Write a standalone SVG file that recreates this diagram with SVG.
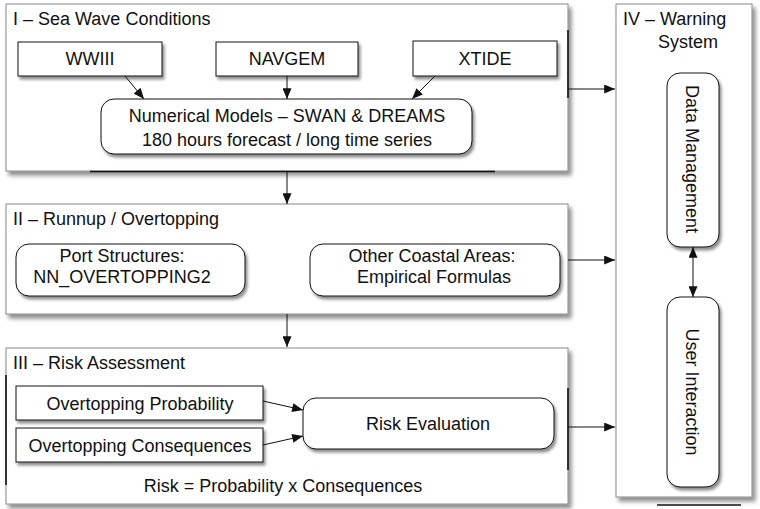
<svg xmlns="http://www.w3.org/2000/svg" width="760" height="509" viewBox="0 0 760 509">
<defs>
<style>
text{font-family:"Liberation Sans",Arial,sans-serif;font-size:18px;fill:#111}
.c{text-anchor:middle}
.panel{fill:#fff;stroke:#8a8a8a;stroke-width:1}
.box{fill:#fff;stroke:#111;stroke-width:1}
.ln{stroke:#111;stroke-width:1;fill:none}
.art{stroke:#111;stroke-width:1.6}
</style>
<filter id="sh" x="-10%" y="-10%" width="130%" height="130%">
<feDropShadow dx="3" dy="4" stdDeviation="2" flood-color="#000" flood-opacity="0.45"/>
</filter>
<filter id="shs" x="-10%" y="-20%" width="130%" height="150%">
<feDropShadow dx="2" dy="3" stdDeviation="1.5" flood-color="#000" flood-opacity="0.45"/>
</filter>
<marker id="ah" viewBox="0 0 12 10" refX="12" refY="5" markerWidth="12" markerHeight="9" markerUnits="userSpaceOnUse" orient="auto-start-reverse">
<path d="M0,0 L12,5 L0,10 z" fill="#111"/>
</marker>
</defs>

<g id="panel1">
<rect class="panel" x="6" y="4" width="562" height="167" filter="url(#sh)"/>
<text x="13" y="25">I – Sea Wave Conditions</text>
<line class="art" x1="568" y1="30" x2="568" y2="98"/>
<line class="art" x1="90" y1="171.5" x2="495" y2="171.5"/>
</g>
<g id="wwiii">
<rect class="box" x="18" y="42" width="144" height="34" filter="url(#shs)"/>
<text class="c" x="90" y="65">WWIII</text>
</g>
<g id="navgem">
<rect class="box" x="216" y="42" width="142" height="34" filter="url(#shs)"/>
<text class="c" x="287" y="65">NAVGEM</text>
</g>
<g id="xtide">
<rect class="box" x="413" y="41" width="144" height="35" filter="url(#shs)"/>
<text class="c" x="485" y="65">XTIDE</text>
</g>
<g id="numerical">
<rect class="box" x="101" y="99" width="371" height="55" rx="13" filter="url(#shs)"/>
<text class="c" x="287" y="122">Numerical Models – SWAN &amp; DREAMS</text>
<text class="c" x="287" y="146">180 hours forecast / long time series</text>
</g>

<g id="panel2">
<rect class="panel" x="6" y="204" width="562" height="110" filter="url(#sh)"/>
<text x="13" y="225">II – Runnup / Overtopping</text>
</g>
<g id="port">
<rect class="box" x="16" y="244" width="229" height="52" rx="13" filter="url(#shs)"/>
<text class="c" x="122" y="262">Port Structures:</text>
<text class="c" x="122" y="283">NN_OVERTOPPING2</text>
</g>
<g id="other">
<rect class="box" x="310" y="244" width="250" height="52" rx="13" filter="url(#shs)"/>
<text class="c" x="432" y="262">Other Coastal Areas:</text>
<text class="c" x="434" y="283">Empirical Formulas</text>
</g>

<g id="panel3">
<rect class="panel" x="6" y="348" width="562" height="156" filter="url(#sh)"/>
<text x="13" y="369">III – Risk Assessment</text>
<line class="art" x1="6" y1="375" x2="6" y2="485"/>
<line class="art" x1="568" y1="388" x2="568" y2="470"/>
<text class="c" x="283" y="492">Risk = Probability x Consequences</text>
</g>
<g id="prob">
<rect class="box" x="16" y="386" width="247" height="34" filter="url(#shs)"/>
<text class="c" x="140" y="410">Overtopping Probability</text>
</g>
<g id="cons">
<rect class="box" x="16" y="428" width="247" height="34" filter="url(#shs)"/>
<text class="c" x="140" y="452">Overtopping Consequences</text>
</g>
<g id="riskeval">
<rect class="box" x="303" y="398" width="251" height="51" rx="13" filter="url(#shs)"/>
<text class="c" x="428" y="430">Risk Evaluation</text>
</g>

<g id="panel4">
<rect class="panel" x="616" y="4" width="136" height="493" filter="url(#sh)"/>
<text x="623" y="25">IV – Warning</text>
<text class="c" x="688" y="48">System</text>
<line class="art" x1="657" y1="505" x2="741" y2="505"/>
</g>
<g id="datamgmt">
<rect class="box" x="667" y="73" width="52" height="174" rx="13" filter="url(#shs)"/>
<text class="c" transform="translate(686,159) rotate(90)">Data Management</text>
</g>
<g id="userint">
<rect class="box" x="667" y="297" width="52" height="190" rx="13" filter="url(#shs)"/>
<text class="c" transform="translate(686,392) rotate(90)">User Interaction</text>
</g>

<g id="connectors">
<line class="ln" x1="125" y1="76" x2="144" y2="99" marker-end="url(#ah)"/>
<line class="ln" x1="287" y1="76" x2="287" y2="99" marker-end="url(#ah)"/>
<line class="ln" x1="435" y1="76" x2="412" y2="99" marker-end="url(#ah)"/>
<line class="ln" x1="287" y1="171" x2="287" y2="204" marker-end="url(#ah)"/>
<line class="ln" x1="287" y1="314" x2="287" y2="347" marker-end="url(#ah)"/>
<line class="ln" x1="568" y1="89" x2="615" y2="89" marker-end="url(#ah)"/>
<line class="ln" x1="568" y1="260" x2="615" y2="260" marker-end="url(#ah)"/>
<line class="ln" x1="568" y1="427" x2="615" y2="427" marker-end="url(#ah)"/>
<line class="ln" x1="263" y1="401" x2="303" y2="410" marker-end="url(#ah)"/>
<line class="ln" x1="263" y1="445" x2="303" y2="436" marker-end="url(#ah)"/>
<line class="ln" x1="693" y1="247" x2="693" y2="297" marker-start="url(#ah)" marker-end="url(#ah)"/>
</g>
</svg>
